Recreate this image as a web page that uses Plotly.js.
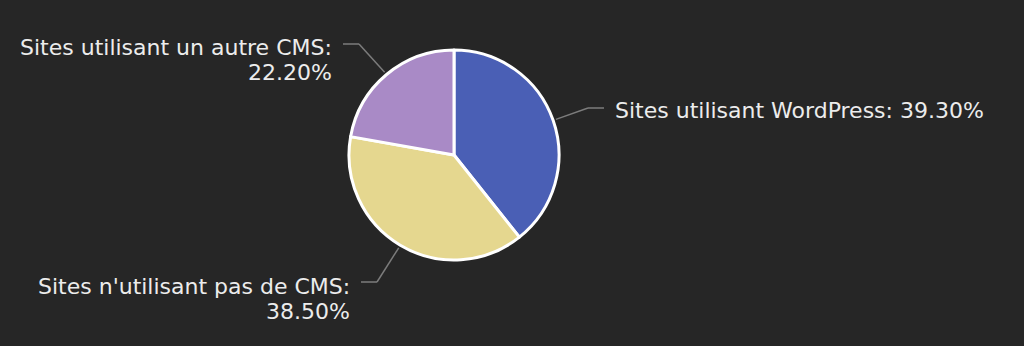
<!DOCTYPE html>
<html>
<head>
<meta charset="utf-8">
<script src="https://cdn.plot.ly/plotly-3.0.1.min.js"></script>
<style>
  html, body { margin: 0; padding: 0; background: #262626; }
  #chart { width: 1024px; height: 346px; }
</style>
</head>
<body>
<div id="chart"></div>
<script>
// Part de marché des CMS
const categories = [
  "Sites utilisant WordPress",
  "Sites n'utilisant pas de CMS",
  "Sites utilisant un autre CMS"
];
const shares = [39.3, 38.5, 22.2];
const sliceColors = ["#4a5fb5", "#e5d78f", "#a98ac6"];

// Page and pie geometry (pixels)
const W = 1024, H = 346;
const CX = 454, CY = 155, R = 105;

// Where each label sits: side of the pie, text edge x, leader line y,
// and the vertical centre of each text line.
const labelPlacement = [
  { side: "right", textX: 613, lineY: 108, rows: [110] },
  { side: "left",  textX: 352, lineY: 282, rows: [286, 311] },
  { side: "left",  textX: 334, lineY: 44,  rows: [47, 72] }
];

const px = x => x / W;
const py = y => 1 - y / H;

const total = shares.reduce((a, b) => a + b, 0);
const fmt = v => v.toFixed(2) + "%";

const annotations = [];
const shapes = [];
const lineStyle = { color: "#7c7c7c", width: 1.5 };
const textFont = { family: "DejaVu Sans, Verdana, sans-serif", size: 22, color: "#ececec" };

let start = 0;
shares.forEach((v, i) => {
  // mid-angle of the slice, clockwise from 12 o'clock
  const mid = (start + v / 2) / total * 2 * Math.PI;
  start += v;
  const ex = CX + (R + 3) * Math.sin(mid);
  const ey = CY - (R + 3) * Math.cos(mid);
  const p = labelPlacement[i];
  const dir = p.side === "right" ? 1 : -1;
  const hEnd = p.textX - dir * 9;
  const hStart = hEnd - dir * 16;

  shapes.push({ type: "line", xref: "paper", yref: "paper",
    x0: px(ex), y0: py(ey), x1: px(hStart), y1: py(p.lineY), line: lineStyle });
  shapes.push({ type: "line", xref: "paper", yref: "paper",
    x0: px(hStart), y0: py(p.lineY), x1: px(hEnd), y1: py(p.lineY), line: lineStyle });

  const lines = p.rows.length === 1
    ? [categories[i] + ": " + fmt(v)]
    : [categories[i] + ":", fmt(v)];
  lines.forEach((t, k) => {
    annotations.push({
      xref: "paper", yref: "paper",
      x: px(p.textX), y: py(p.rows[k]),
      xanchor: p.side === "right" ? "left" : "right",
      yanchor: "middle",
      text: t, showarrow: false, font: textFont
    });
  });
});

const trace = {
  type: "pie",
  labels: categories,
  values: shares,
  sort: false,
  direction: "clockwise",
  rotation: 0,
  textinfo: "none",
  hoverinfo: "label+percent",
  marker: { colors: sliceColors, line: { color: "#ffffff", width: 3 } },
  domain: { x: [px(CX - R), px(CX + R)], y: [py(CY + R), py(CY - R)] }
};

const layout = {
  width: W, height: H,
  margin: { l: 0, r: 0, t: 0, b: 0 },
  paper_bgcolor: "#262626",
  plot_bgcolor: "#262626",
  showlegend: false,
  annotations: annotations,
  shapes: shapes
};

Plotly.newPlot("chart", [trace], layout, { displayModeBar: false, staticPlot: true });
</script>
</body>
</html>
